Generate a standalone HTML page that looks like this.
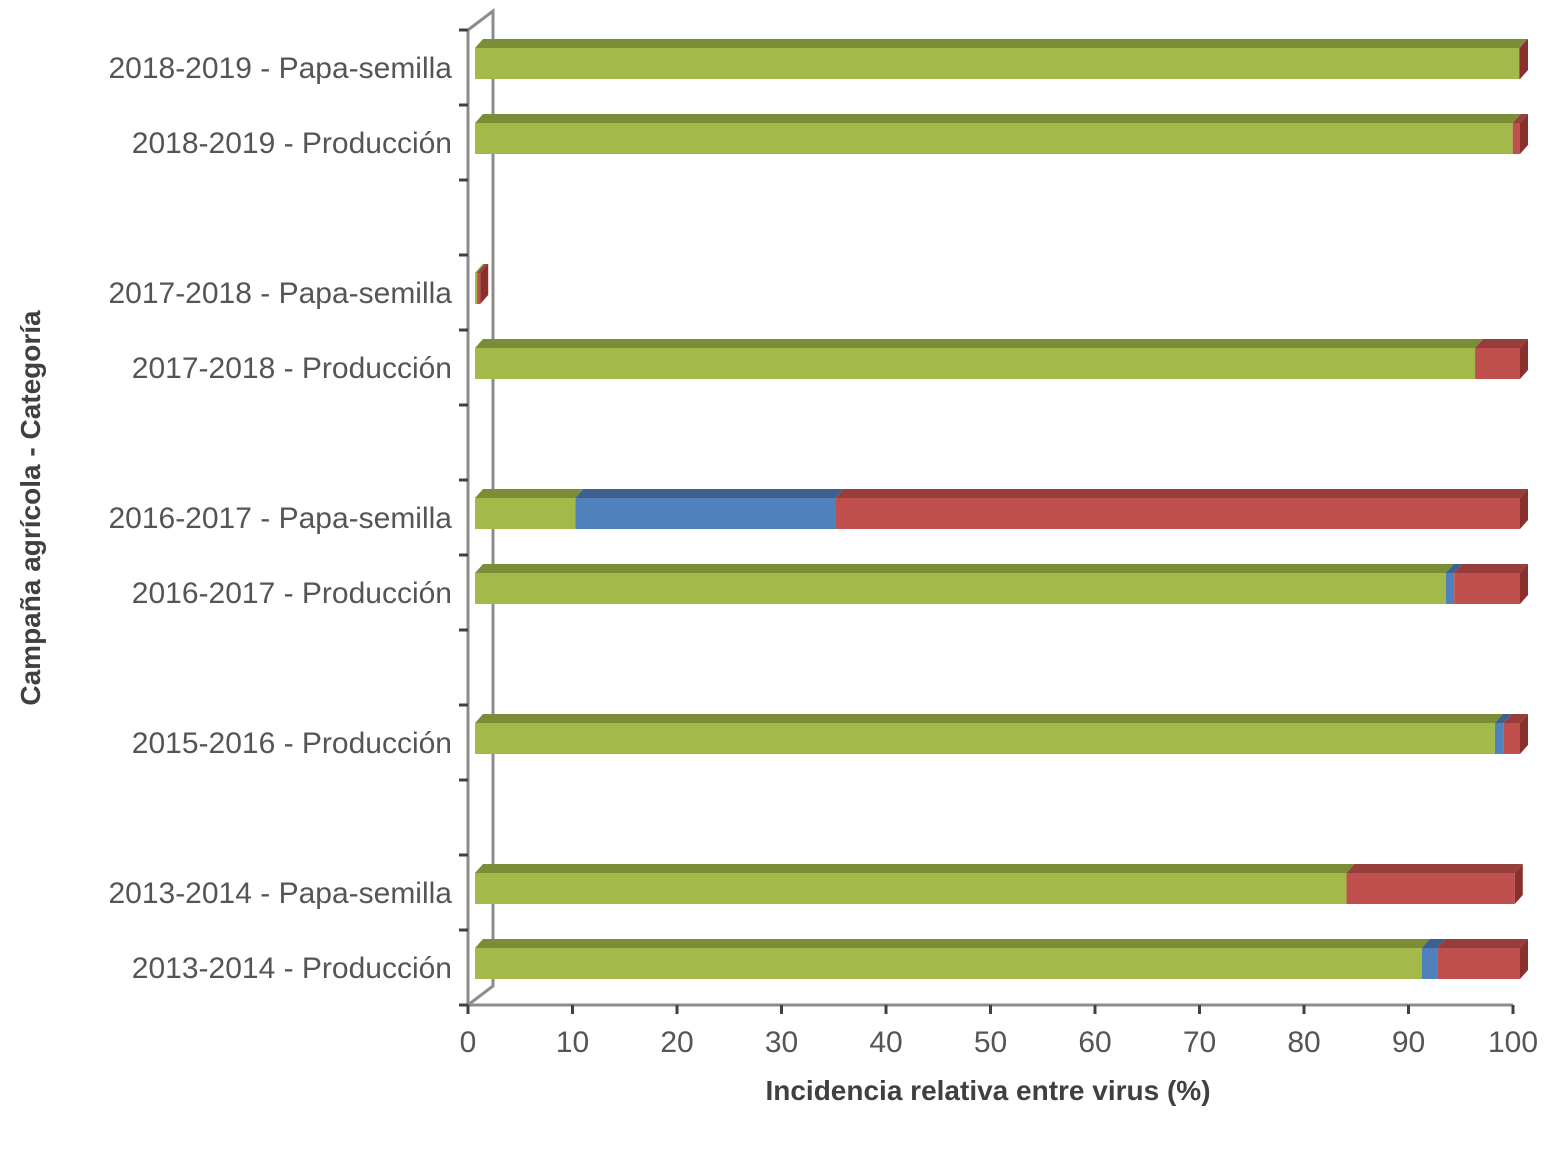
<!DOCTYPE html>
<html><head><meta charset="utf-8"><style>
body{margin:0;background:#fff;}
svg{display:block;font-family:"Liberation Sans",sans-serif;}
</style></head><body>
<svg id="chart" width="1566" height="1164">
<g id="axes"></g><g id="bars"></g><g id="labels"></g>
<text x="988" y="1100" text-anchor="middle" font-size="28" font-weight="bold" fill="#404040">Incidencia relativa entre virus (%)</text>
<text transform="translate(40,508) rotate(-90)" text-anchor="middle" font-size="28" font-weight="bold" fill="#404040">Campaña agrícola - Categoría</text>
</svg>
<script>
const categories=["2018-2019 - Papa-semilla","2018-2019  - Producción","","2017-2018 - Papa-semilla","2017-2018 - Producción","","2016-2017 - Papa-semilla","2016-2017 - Producción","","2015-2016 - Producción","","2013-2014 - Papa-semilla","2013-2014 - Producción"];
const greenVals=[99.9,99.3,0,0.2,95.7,0,9.6,92.9,0,97.6,0,83.4,90.6];
const blueVals=[0,0,0,0,0,0,24.9,0.8,0,0.8,0,0,1.5];
const redVals=[0.1,0.7,0,0.3,4.3,0,65.5,6.3,0,1.6,0,16.1,7.9];
const xTicks=[0,10,20,30,40,50,60,70,80,90,100];
const NS="http://www.w3.org/2000/svg";
const x0=468,xs=10.45,top0=30,slot=75,dx=8,dy=9,bh=31;
const X=v=>x0+v*xs;
const Y=i=>top0+i*slot;
function mk(p,t,a){const e=document.createElementNS(NS,t);for(const k in a)e.setAttribute(k,a[k]);p.appendChild(e);return e;}
const axes=document.getElementById('axes'),bars=document.getElementById('bars'),labs=document.getElementById('labels');
const n=categories.length,bottom=Y(n);
let e=mk(axes,'path',{d:`M${x0} ${top0}L${x0+25} ${top0-19}L${x0+25} ${bottom-19}L${x0} ${bottom}Z M${x0} ${bottom}L${X(100)} ${bottom}`,fill:'none',stroke:'#8c8c8c','stroke-width':3});

for(let i=0;i<=n;i++){e=mk(axes,'line',{x1:x0-9,x2:x0,y1:Y(i),y2:Y(i),stroke:'#404040','stroke-width':3});
}
xTicks.forEach(t=>{e=mk(axes,'line',{x1:X(t),x2:X(t),y1:bottom,y2:bottom+9,stroke:'#404040','stroke-width':3});

e=mk(labs,'text',{x:X(t),y:bottom+47,'text-anchor':'middle','font-size':30,fill:'#555'});e.textContent=t;
});
const cols=[["#a3b94a","#7b8d36","#8a9c3d"],["#4f81bd","#3c618f","#3c618f"],["#c0504d","#973d3a","#8b2f2d"]];
categories.forEach((c,i)=>{
 if(c){e=mk(labs,'text',{x:452,y:Y(i)+48,'text-anchor':'end','font-size':30,fill:'#555'});e.textContent=c;
 }
 const vals=[greenVals[i],blueVals[i],redVals[i]];
 if(vals[0]+vals[1]+vals[2]<=0)return;
 const fy=Y(i)+18;let acc=0;const xs0=475;
 vals.forEach((v,k)=>{if(v<=0)return;
  const a=xs0+acc*xs,b=xs0+(acc+v)*xs;acc+=v;
  const g=mk(bars,'g',{});
  
  mk(g,'polygon',{points:`${a},${fy} ${a+dx},${fy-dy} ${b+dx},${fy-dy} ${b},${fy}`,fill:cols[k][1]});
  mk(g,'rect',{x:a,y:fy,width:Math.max(b-a,0.5),height:bh,fill:cols[k][0]});
 });
 let last=2;while(vals[last]<=0)last--;
 const b=xs0+acc*xs;
 e=mk(bars,'polygon',{points:`${b},${fy} ${b+dx},${fy-dy} ${b+dx},${fy+bh-dy} ${b},${fy+bh}`,fill:cols[last][2]});
 
});
</script>
</body></html>
